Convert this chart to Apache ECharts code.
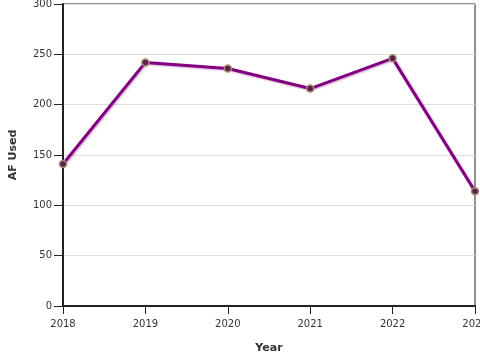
<!DOCTYPE html>
<html><head><meta charset="utf-8">
<script src="https://cdn.jsdelivr.net/npm/echarts@6/dist/echarts.min.js"></script>
<style>html,body{margin:0;padding:0;background:#fff}#c{width:480px;height:360px}</style>
</head><body><div id="c"></div>
<script>
const years = [2018, 2019, 2020, 2021, 2022, 2023];
const afUsed = [141, 242, 236, 216, 246, 114];
const yTicks = [0, 50, 100, 150, 200, 250, 300];

const chart = echarts.init(document.getElementById('c'), null, {renderer: 'canvas'});
const font = 'DejaVu Sans';
chart.setOption({
  animation: false,
  backgroundColor: '#fff',
  grid: {left: 63, right: 5, top: 4, bottom: 54, show: true, borderColor: '#222', borderWidth: 1, backgroundColor: 'transparent', containLabel: false, outerBoundsMode: 'none'},
  xAxis: {
    type: 'value', min: 2018, max: 2023, interval: 1,
    name: 'Year', nameLocation: 'middle', nameGap: 37,
    nameTextStyle: {fontFamily: font, fontWeight: 'bold', fontSize: 11, color: '#333'},
    axisLine: {show: true, lineStyle: {color: '#222', width: 2}},
    axisTick: {show: true, length: 8, lineStyle: {color: '#222'}},
    axisLabel: {fontFamily: font, fontSize: 10, color: '#333', margin: 13, showMaxLabel: true, formatter: v => String(v)},
    splitLine: {show: false}
  },
  yAxis: {
    type: 'value', min: 0, max: 300, interval: 50,
    name: 'AF Used', nameLocation: 'middle', nameGap: 44, nameRotate: 90,
    nameTextStyle: {fontFamily: font, fontWeight: 'bold', fontSize: 11, color: '#333'},
    axisLine: {show: true, lineStyle: {color: '#222', width: 2}},
    axisTick: {show: true, length: 9, lineStyle: {color: '#222'}},
    axisLabel: {fontFamily: font, fontSize: 10, color: '#333', margin: 11},
    splitLine: {show: true, lineStyle: {color: '#ddd', width: 1}}
  },
  series: [{
    type: 'line',
    data: years.map((y, i) => [y, afUsed[i]]),
    symbol: 'circle', symbolSize: 7,
    lineStyle: {color: '#800080', width: 3, shadowColor: 'rgba(128,0,128,0.35)', shadowBlur: 2, shadowOffsetX: 1, shadowOffsetY: 1},
    itemStyle: {color: '#5a2050', borderColor: '#a89070', borderWidth: 1.5},
    clip: false
  }]
});
</script></body></html>
